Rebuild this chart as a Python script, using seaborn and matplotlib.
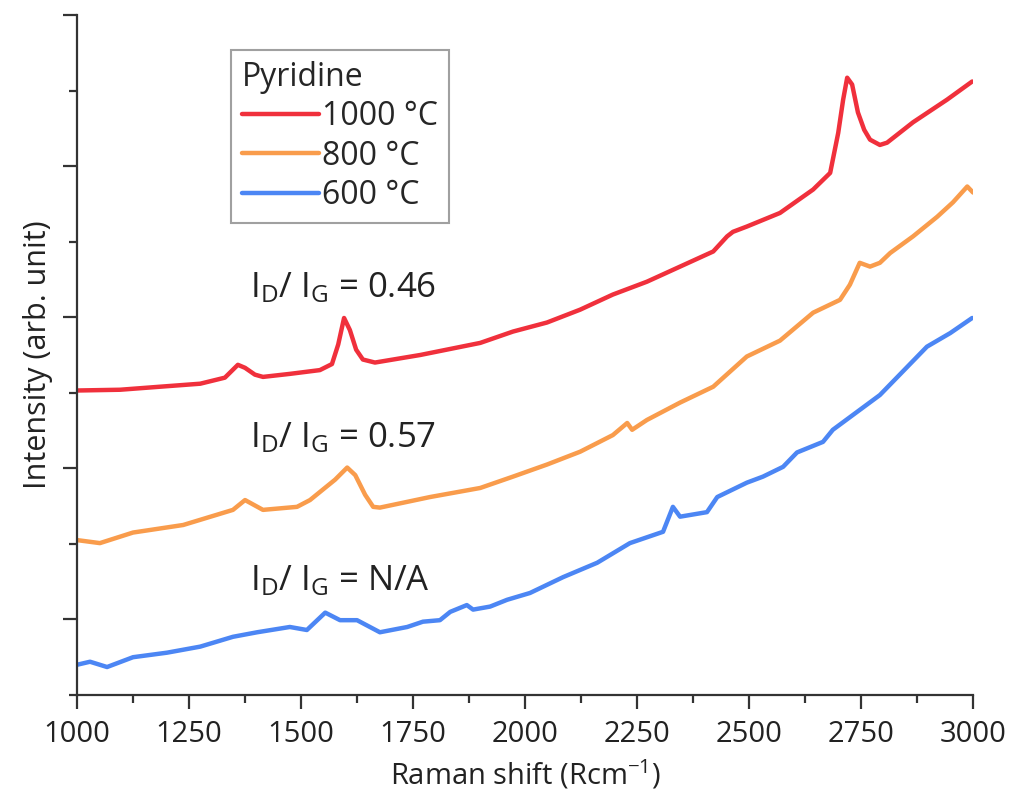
import matplotlib
matplotlib.use('Agg')
import matplotlib.pyplot as plt
import seaborn as sns
import numpy as np
import pandas as pd

# Raman spectra (shift in cm-1, intensity in arb. units, offset per sample)
shift_1000 = [1000, 1096, 1185, 1275, 1330, 1359, 1375, 1397, 1415, 1475, 1542, 1569, 1583, 1596,
              1609, 1623, 1638, 1665, 1766, 1900, 1973, 2049, 2123, 2196, 2272, 2346, 2420, 2451,
              2464, 2495, 2569, 2643, 2681, 2699, 2710, 2719, 2730, 2743, 2757, 2770, 2792, 2808,
              2866, 2942, 2998]
int_1000 = [4.03, 4.04, 4.08, 4.12, 4.20, 4.37, 4.33, 4.24, 4.21, 4.25, 4.30, 4.38, 4.64, 4.99,
            4.83, 4.57, 4.44, 4.40, 4.50, 4.66, 4.81, 4.93, 5.10, 5.30, 5.47, 5.67, 5.87, 6.07,
            6.13, 6.20, 6.38, 6.69, 6.91, 7.44, 7.88, 8.17, 8.08, 7.71, 7.48, 7.35, 7.28, 7.31,
            7.58, 7.88, 8.12]

shift_800 = [1000, 1051, 1125, 1237, 1348, 1375, 1415, 1491, 1520, 1549, 1576, 1603, 1621, 1643,
             1661, 1676, 1788, 1900, 1973, 2049, 2123, 2196, 2228, 2239, 2272, 2346, 2420, 2495,
             2569, 2643, 2703, 2725, 2747, 2770, 2792, 2815, 2866, 2920, 2955, 2987, 3000]
int_800 = [2.05, 2.01, 2.15, 2.25, 2.45, 2.58, 2.45, 2.49, 2.58, 2.72, 2.85, 3.01, 2.91, 2.65,
           2.49, 2.48, 2.62, 2.74, 2.89, 3.05, 3.22, 3.44, 3.60, 3.51, 3.64, 3.87, 4.08, 4.48,
           4.69, 5.06, 5.23, 5.43, 5.72, 5.67, 5.72, 5.85, 6.07, 6.33, 6.52, 6.73, 6.65]

shift_600 = [1000, 1029, 1067, 1125, 1201, 1275, 1348, 1402, 1475, 1513, 1554, 1587, 1625, 1676,
             1737, 1772, 1810, 1833, 1870, 1884, 1922, 1960, 2011, 2085, 2161, 2234, 2308, 2330,
             2346, 2406, 2429, 2495, 2531, 2576, 2607, 2665, 2687, 2792, 2897, 2949, 2998]
int_600 = [0.40, 0.44, 0.37, 0.50, 0.56, 0.64, 0.77, 0.83, 0.90, 0.86, 1.09, 0.99, 0.99, 0.83,
           0.90, 0.97, 0.99, 1.10, 1.19, 1.13, 1.17, 1.26, 1.35, 1.56, 1.75, 2.01, 2.16, 2.49,
           2.36, 2.42, 2.62, 2.81, 2.89, 3.02, 3.21, 3.35, 3.51, 3.97, 4.61, 4.79, 4.99]

labels = ['1000 °C', '800 °C', '600 °C']
colors = ['#f0303c', '#f99c4c', '#4c86f4']
ratios = ['0.46', '0.57', 'N/A']
ratio_pos = [(1386, 5.26), (1386, 3.28), (1386, 1.39)]

df = pd.concat([
    pd.DataFrame({'shift': shift_1000, 'intensity': int_1000, 'sample': labels[0]}),
    pd.DataFrame({'shift': shift_800, 'intensity': int_800, 'sample': labels[1]}),
    pd.DataFrame({'shift': shift_600, 'intensity': int_600, 'sample': labels[2]}),
])

sns.set_style('ticks')
plt.rcParams['font.family'] = ['Open Sans', 'DejaVu Sans']
plt.rcParams['mathtext.default'] = 'regular'

fig = plt.figure(figsize=(10.15, 7.98), dpi=100)
ax = fig.add_axes([0.0759, 0.1291, 0.8828, 0.8521])

sns.lineplot(data=df, x='shift', y='intensity', hue='sample', hue_order=labels,
             palette=dict(zip(labels, colors)), estimator=None, sort=False,
             linewidth=3.2, ax=ax)

for r, (xp, yp) in zip(ratios, ratio_pos):
    ax.text(xp, yp, r'I$_{D}$/ I$_{G}$ = ' + r, fontsize=25, color='#222222',
            ha='left', va='baseline')

ax.set_xlim(1000, 3000)
ax.set_ylim(0, 9)
ax.set_xticks(np.arange(1000, 3001, 250))
ax.set_xticks(np.arange(1125, 3000, 250), minor=True)
ax.set_yticks([1, 3, 5, 7, 9])
ax.set_yticks([0, 2, 4, 6, 8], minor=True)
ax.set_yticklabels([])

ax.tick_params(axis='both', which='major', length=10, width=1.6, color='#333333',
               labelsize=21, labelcolor='#222222', pad=8)
ax.tick_params(axis='both', which='minor', length=6, width=1.6, color='#333333')
for s in ['left', 'bottom']:
    ax.spines[s].set_linewidth(1.6)
    ax.spines[s].set_color('#333333')
sns.despine(ax=ax)

ax.set_xlabel('Raman shift (Rcm$^{-1}$)', fontsize=21, color='#222222', labelpad=6)
ax.set_ylabel('Intensity (arb. unit)', fontsize=22, color='#222222', labelpad=-1)

leg = ax.legend(title='Pyridine', loc='upper left', bbox_to_anchor=(0.172, 0.949),
                borderaxespad=0, fontsize=23, title_fontsize=23, fancybox=False,
                edgecolor='#888888', handlelength=2.4, handletextpad=0.1,
                labelspacing=0.2, borderpad=0.35, alignment='left')
leg.get_frame().set_linewidth(1.5)
for line in leg.get_lines():
    line.set_linewidth(3.2)

fig.savefig('out.png', dpi=100)
